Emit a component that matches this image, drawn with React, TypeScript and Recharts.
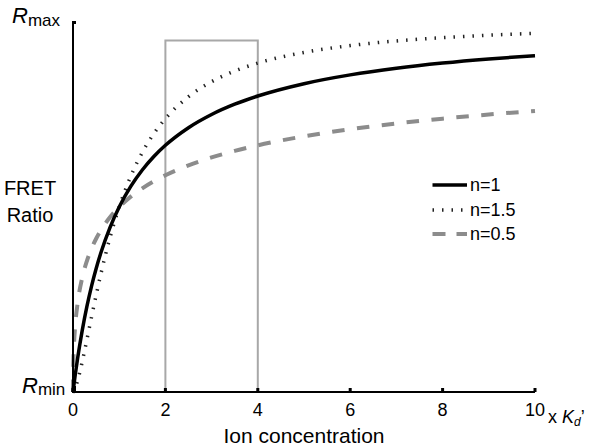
import React from "react";
import { LineChart, Line, XAxis, YAxis, ReferenceArea, Legend } from "recharts";

// Ion concentration (x Kd')
const xs = [0, 0.005, 0.01, 0.02, 0.05, 0.1, 0.2, 0.3, 0.4, 0.5, 0.6, 0.8, 1, 1.25, 1.5, 1.75, 2, 2.5, 3, 3.5, 4, 5, 6, 7, 8, 9, 10];
// normalized FRET ratio (0 = Rmin, 1 = Rmax)
const n1 = [0, 0.005, 0.0099, 0.0196, 0.0476, 0.0909, 0.1667, 0.2308, 0.2857, 0.3333, 0.375, 0.4444, 0.5, 0.5556, 0.6, 0.6364, 0.6667, 0.7143, 0.75, 0.7778, 0.8, 0.8333, 0.8571, 0.875, 0.8889, 0.9, 0.9091];
const n15 = [0, 0.0004, 0.001, 0.0028, 0.0111, 0.0307, 0.0821, 0.1411, 0.2019, 0.2612, 0.3173, 0.4171, 0.5, 0.5829, 0.6475, 0.6983, 0.7388, 0.7981, 0.8386, 0.8675, 0.8889, 0.9179, 0.9363, 0.9488, 0.9577, 0.9643, 0.9693];
const n05 = [0, 0.066, 0.0909, 0.1239, 0.1827, 0.2403, 0.309, 0.3539, 0.3874, 0.4142, 0.4365, 0.4721, 0.5, 0.5279, 0.5505, 0.5695, 0.5858, 0.6126, 0.634, 0.6517, 0.6667, 0.691, 0.7101, 0.7257, 0.7388, 0.75, 0.7597];

const xTicks = [0, 2, 4, 6, 8, 10];
const yTicks = [0, 1];
const boxRange = [2, 4];
const boxTop = 0.95;

const seriesNames = ["n=1", "n=1.5", "n=0.5"];
const yTitle = ["FRET", "Ratio"];

const data = xs.map((x, i) => ({ x, n1: n1[i], n15: n15[i], n05: n05[i] }));

const FONT = "'Liberation Sans', Arial, Helvetica, sans-serif";
const CHART_W = 600;
const CHART_H = 448;
const MARGIN = { top: 22, right: 65, bottom: 0, left: 63 };
const X_AXIS_H = 56;
const Y_AXIS_W = 10;
const PLOT_H = CHART_H - MARGIN.top - MARGIN.bottom - X_AXIS_H;
const AXIS_X = MARGIN.left + Y_AXIS_W;

const XTick = (props: any) => {
  const { x, y, payload } = props;
  const v = payload.value;
  return (
    <g>
      <rect x={x - 1.5} y={y - 4} width={3} height={4} fill="#000" />
      <text x={x} y={y + 24} textAnchor="middle" fontSize={18} fontFamily={FONT} fill="#000">
        {v}
      </text>
      {v === 10 && (
        <text x={x + 13} y={y + 31} fontSize={18} fontFamily={FONT} fill="#000">
          x <tspan fontStyle="italic">K</tspan>
          <tspan fontStyle="italic" fontSize={12} dy={3}>d</tspan>
          <tspan dy={-3}>’</tspan>
        </text>
      )}
    </g>
  );
};

const YTick = (props: any) => {
  const { x, y, payload } = props;
  const isMax = payload.value === 1;
  return (
    <g>
      <text x={isMax ? x - 61 : x - 51} y={y + 1} fontFamily={FONT} fill="#000">
        <tspan fontStyle="italic" fontSize={22}>R</tspan>
        <tspan fontSize={17} dy={isMax ? 3 : 2}>{isMax ? "max" : "min"}</tspan>
      </text>
      {isMax && (
        <text fontFamily={FONT} fontSize={20} fill="#000" textAnchor="middle">
          <tspan x={x - 43} y={y + 173}>{yTitle[0]}</tspan>
          <tspan x={x - 43} y={y + 200}>{yTitle[1]}</tspan>
        </text>
      )}
    </g>
  );
};

const legendStyles = [
  { stroke: "#000", width: 3.5, dash: undefined as string | undefined },
  { stroke: "#222", width: 3.5, dash: "1.5 8" },
  { stroke: "#8c8c8c", width: 4, dash: "13 11" },
];

const Overlay = () => (
  <div style={{ position: "relative", width: CHART_W, height: CHART_H, pointerEvents: "none" }}>
    <svg width={CHART_W} height={CHART_H} style={{ position: "absolute", left: 0, top: 0 }}>
      <line x1={AXIS_X} y1={MARGIN.top - 1} x2={AXIS_X} y2={MARGIN.top + PLOT_H + 1} stroke="#000" strokeWidth={2} />
      <rect x={AXIS_X} y={MARGIN.top - 1} width={3} height={3} fill="#000" />
      <rect x={AXIS_X} y={MARGIN.top + PLOT_H - 6} width={3} height={6} fill="#000" />
    </svg>
    <div style={{ position: "absolute", left: 432, top: 173, fontFamily: FONT, fontSize: 18, color: "#000", lineHeight: "24.5px" }}>
      {seriesNames.map((name, i) => (
        <div key={name} style={{ display: "flex", alignItems: "center", height: 24.5 }}>
          <svg width={36} height={10} style={{ display: "block" }}>
            <line
              x1={0.5}
              y1={5}
              x2={35}
              y2={5}
              stroke={legendStyles[i].stroke}
              strokeWidth={legendStyles[i].width}
              strokeDasharray={legendStyles[i].dash}
            />
          </svg>
          <span style={{ marginLeft: 2 }}>{name}</span>
        </div>
      ))}
    </div>
  </div>
);

export default function App() {
  return (
    <div style={{ position: "absolute", left: 0, top: 0, background: "#fff" }}>
      <LineChart width={CHART_W} height={CHART_H} data={data} margin={MARGIN}>
        <ReferenceArea
          x1={boxRange[0]}
          x2={boxRange[1]}
          y1={0}
          y2={boxTop}
          fill="none"
          fillOpacity={0}
          stroke="#a8a8a8"
          strokeWidth={2}
        />
        <XAxis
          dataKey="x"
          type="number"
          domain={[0, 10]}
          ticks={xTicks}
          interval={0}
          height={X_AXIS_H}
          tickSize={0}
          tickMargin={0}
          tickLine={false}
          axisLine={{ stroke: "#000", strokeWidth: 2 }}
          tick={<XTick />}
          label={{ value: "Ion concentration", position: "insideBottom", offset: 5, fontSize: 21, fontFamily: FONT, fill: "#000" }}
        />
        <YAxis
          type="number"
          domain={[0, 1]}
          ticks={yTicks}
          width={Y_AXIS_W}
          tickSize={0}
          tickMargin={0}
          tickLine={false}
          axisLine={{ stroke: "#000", strokeWidth: 2 }}
          tick={<YTick />}
        />
        <Legend
          layout="vertical"
          align="center"
          verticalAlign="middle"
          content={<Overlay />}
          wrapperStyle={{ left: 0, top: 0, width: CHART_W, height: CHART_H, pointerEvents: "none" }}
        />
        <Line
          type="monotone"
          dataKey="n05"
          name={seriesNames[2]}
          stroke="#8c8c8c"
          strokeWidth={4}
          strokeDasharray="12.5 12.5"
          dot={false}
          isAnimationActive={false}
        />
        <Line
          type="monotone"
          dataKey="n15"
          name={seriesNames[1]}
          stroke="#222"
          strokeWidth={3.5}
          strokeDasharray="1.5 8"
          dot={false}
          isAnimationActive={false}
        />
        <Line
          type="monotone"
          dataKey="n1"
          name={seriesNames[0]}
          stroke="#000"
          strokeWidth={3.5}
          dot={false}
          isAnimationActive={false}
        />
      </LineChart>
    </div>
  );
}
